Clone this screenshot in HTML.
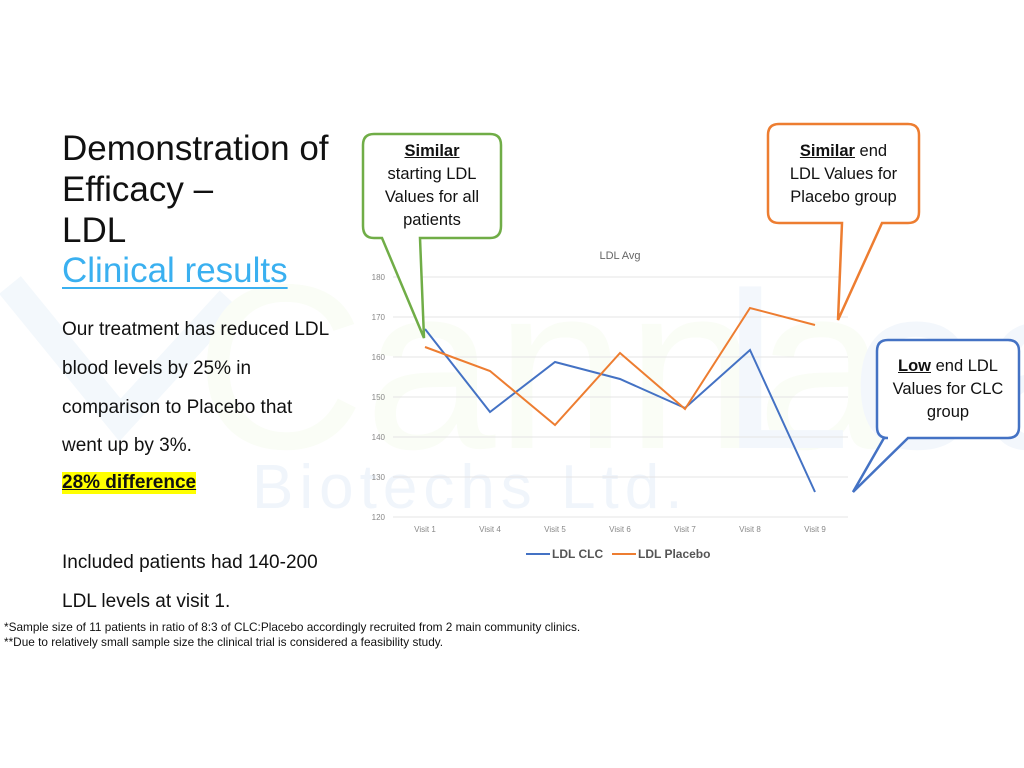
<!DOCTYPE html>
<html><head><meta charset="utf-8"><style>
body{margin:0;width:1024px;height:768px;background:#fff;position:relative;overflow:hidden;font-family:"Liberation Sans",sans-serif;}
.t{position:absolute;white-space:nowrap;color:#111;}
</style></head><body>
<svg width="1024" height="768" style="position:absolute;left:0;top:0">
<!-- watermark -->
<path d="M10 285 L120 420 L230 300" stroke="#f3f8fc" stroke-width="28" fill="none"/>
<text x="195" y="448" font-family="Liberation Sans" font-size="235" fill="#fafdf6">Canna</text>
<text x="720" y="448" font-family="Liberation Sans" font-size="235" fill="#f3f7fc">Lean</text>
<text x="252" y="508" font-family="Liberation Sans" font-size="62" fill="#f0f5fb" letter-spacing="6">Biotechs Ltd.</text>
<!-- grid -->
<g stroke="#e4e4e4" stroke-width="1">
<line x1="393" y1="277" x2="848" y2="277"/><line x1="393" y1="317" x2="848" y2="317"/>
<line x1="393" y1="357" x2="848" y2="357"/><line x1="393" y1="397" x2="848" y2="397"/>
<line x1="393" y1="437" x2="848" y2="437"/><line x1="393" y1="477" x2="848" y2="477"/>
<line x1="393" y1="517" x2="848" y2="517"/></g>
<g font-family="Liberation Sans" font-size="8" fill="#888" text-anchor="end">
<text x="385" y="280">180</text><text x="385" y="320">170</text><text x="385" y="360">160</text>
<text x="385" y="400">150</text><text x="385" y="440">140</text><text x="385" y="480">130</text><text x="385" y="520">120</text></g>
<g font-family="Liberation Sans" font-size="8" fill="#888" text-anchor="middle">
<text x="425" y="532">Visit 1</text><text x="490" y="532">Visit 4</text><text x="555" y="532">Visit 5</text>
<text x="620" y="532">Visit 6</text><text x="685" y="532">Visit 7</text><text x="750" y="532">Visit 8</text><text x="815" y="532">Visit 9</text></g>
<text x="620" y="259" font-family="Liberation Sans" font-size="11" fill="#666" text-anchor="middle">LDL Avg</text>
<polyline points="425,329 490,412 555,362 620,379 685,408 750,350 815,492" fill="none" stroke="#4472c4" stroke-width="2"/>
<polyline points="425,347 490,371 555,425 620,353 685,409 750,308 815,325" fill="none" stroke="#ed7d31" stroke-width="2"/>
<line x1="526" y1="554" x2="550" y2="554" stroke="#4472c4" stroke-width="2"/>
<text x="552" y="558" font-family="Liberation Sans" font-size="12" font-weight="bold" fill="#555">LDL CLC</text>
<line x1="612" y1="554" x2="636" y2="554" stroke="#ed7d31" stroke-width="2"/>
<text x="638" y="558" font-family="Liberation Sans" font-size="12" font-weight="bold" fill="#555">LDL Placebo</text>
<!-- callouts -->
<path d="M374 134 H490 Q501 134 501 145 V226 Q501 238 490 238 H420 L424 338 L382 238 H374 Q363 238 363 226 V145 Q363 134 374 134 Z" fill="#fff" stroke="#70ad47" stroke-width="2.5"/>
<path d="M779 124 H908 Q919 124 919 135 V212 Q919 223 908 223 H882 L838 320 L842 223 H779 Q768 223 768 212 V135 Q768 124 779 124 Z" fill="#fff" stroke="#ed7d31" stroke-width="2.5"/>
<path d="M888 340 H1008 Q1019 340 1019 351 V427 Q1019 438 1008 438 H908 L853 492 L884 438 H888 Q877 438 877 427 V351 Q877 340 888 340 Z" fill="#fff" stroke="#4472c4" stroke-width="2.5"/>
</svg>
<div class="t" style="left:62px;top:128px;font-size:35px;line-height:41px">Demonstration of<br>Efficacy –<br>LDL</div>
<div class="t" style="left:62px;top:251px;font-size:35px;color:#3ab0f0;text-decoration:underline;text-decoration-thickness:2px;text-underline-offset:5px">Clinical results</div>
<div class="t" style="left:62px;top:311px;font-size:19px;line-height:38.8px">Our treatment has reduced LDL<br>blood levels by 25% in<br>comparison to Placebo that<br>went up by 3%.</div>
<div class="t" style="left:62px;top:472px;font-size:19px;font-weight:bold;background:#ffff00;text-decoration:underline">28% difference</div>
<div class="t" style="left:62px;top:543px;font-size:19px;line-height:39px">Included patients had 140-200<br>LDL levels at visit 1.</div>
<div class="t" style="left:4px;top:620px;font-size:11.8px;line-height:15px">*Sample size of 11 patients in ratio of 8:3 of CLC:Placebo accordingly recruited from 2 main community clinics.<br>**Due to relatively small sample size the clinical trial is considered a feasibility study.</div>
<div class="t" style="left:363px;top:140px;width:138px;text-align:center;font-size:16.5px;line-height:23px"><b><u>Similar</u></b><br>starting LDL<br>Values for all<br>patients</div>
<div class="t" style="left:768px;top:140px;width:151px;text-align:center;font-size:16.5px;line-height:23px"><b><u>Similar</u></b> end<br>LDL Values for<br>Placebo group</div>
<div class="t" style="left:877px;top:355px;width:142px;text-align:center;font-size:16.5px;line-height:23px"><b><u>Low</u></b> end LDL<br>Values for CLC<br>group</div>
</body></html>
